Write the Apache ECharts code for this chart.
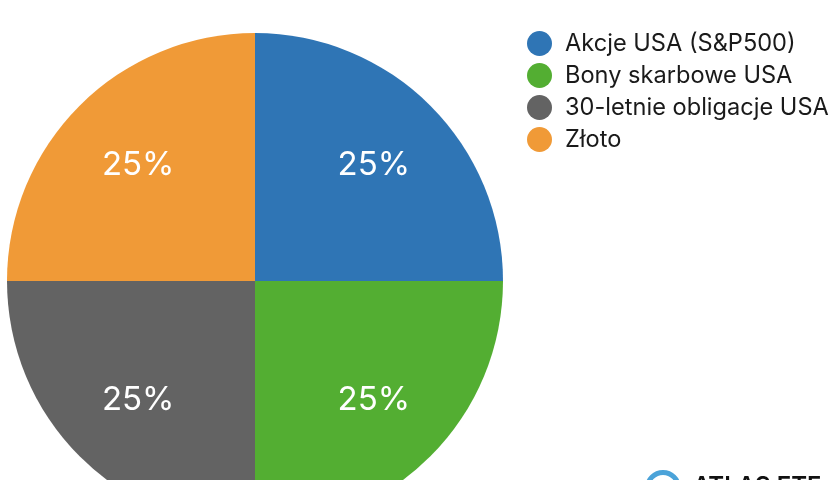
<!DOCTYPE html>
<html><head><meta charset="utf-8">
<style>html,body{margin:0;padding:0;background:#fff}#c{width:840px;height:480px}</style>
<script src="https://cdn.jsdelivr.net/npm/echarts@6/dist/echarts.min.js"></script>
</head><body><div id="c"></div>
<script>
const categories = ["Akcje USA (S&P500)","Bony skarbowe USA","30-letnie obligacje USA","Złoto"];
const values = [25,25,25,25];
const colors = ["#2F75B5","#53AE32","#636363","#F09A37"];
const FONT = "Inter";
const chart = echarts.init(document.getElementById('c'),null,{renderer:'canvas'});
chart.setOption({
  animation:false,
  backgroundColor:'#fff',
  legend:{
    orient:'vertical',left:527,top:31,
    icon:'circle',itemWidth:25,itemHeight:25,itemGap:7,
    padding:0,
    selectedMode:false,
    textStyle:{fontFamily:FONT,fontSize:23.6,color:'#1a1a1a',padding:[2,0,0,8]},
    data:categories
  },
  series:[{
    type:'pie',
    center:[255,281],radius:[0,248],
    startAngle:90,clockwise:true,silent:true,
    label:{show:true,position:'inside',formatter:'{c}%',color:'#fff',fontFamily:FONT,fontSize:33},
    labelLine:{show:false},
    labelLayout:function(p){
      return {dx:[29,29,-27,-27][p.dataIndex],dy:[-26,29,29,-26][p.dataIndex]};
    },
    itemStyle:{borderWidth:0},
    data:categories.map((n,i)=>({name:n,value:values[i],itemStyle:{color:colors[i]}}))
  }],
  graphic:[
    {type:'circle',shape:{cx:663,cy:488,r:15.5},style:{fill:'none',stroke:'#4BA3D9',lineWidth:5},silent:true},
    {type:'text',x:693,y:475,style:{text:'ATLAS ETF',fontFamily:FONT,fontWeight:600,fontSize:24,fill:'#111'},silent:true}
  ]
});
</script></body></html>
